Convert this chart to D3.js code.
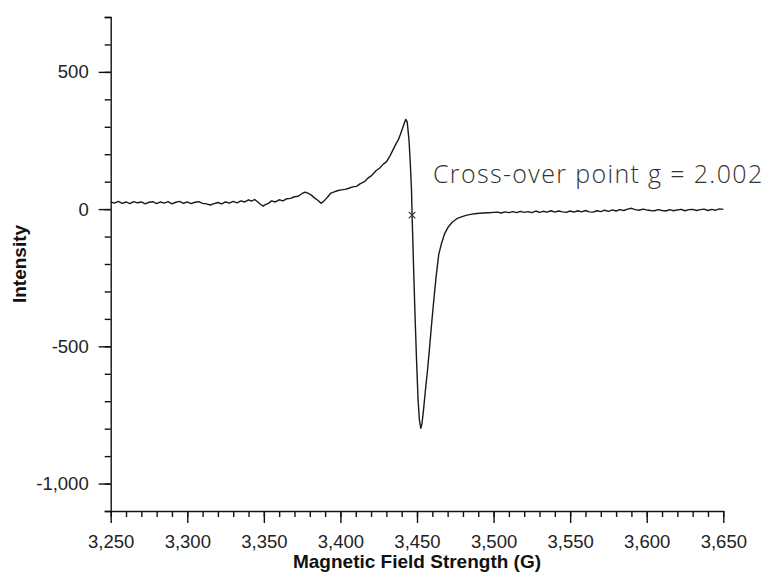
<!DOCTYPE html>
<meta charset="utf-8">
<style>
  body { margin: 0; background: #fff; }
  .axis text { font-family: "Liberation Sans", Arial, sans-serif; font-size: 18.5px; fill: #222; }
  .axis path, .axis line { stroke: #111; stroke-width: 1.4px; }
  .title { font-family: "Liberation Sans", Arial, sans-serif; font-weight: bold; font-size: 19px; fill: #111; }
  .note { font-family: "Open Sans", Roboto, sans-serif; font-weight: 300; font-size: 25px; letter-spacing: 1.35px; fill: #333; }
</style>
<body>
<script src="https://cdn.jsdelivr.net/npm/d3@7"></script>
<script>

// magnetic field (G) and intensity
var fieldG = [
  3250, 3252.5, 3255, 3257.5, 3260, 3262.5, 3265, 3267.5, 3270, 3272.5,
  3275, 3277.5, 3280, 3282.5, 3285, 3287.5, 3290, 3292.5, 3295, 3297.5,
  3300, 3302.5, 3305, 3307.5, 3310, 3312.5, 3315, 3317.5, 3320, 3322.5,
  3325, 3327.5, 3330, 3332.5, 3335, 3337.5, 3340, 3342, 3344, 3346,
  3348, 3349.5, 3351, 3353, 3355, 3357.5, 3360, 3362.5, 3365, 3367.5,
  3370, 3372.5, 3375, 3377, 3379, 3381, 3383, 3385, 3387.5, 3389.5,
  3391.5, 3393.5, 3395.5, 3398, 3400.5, 3403, 3405.5, 3408, 3410.5, 3413,
  3415.5, 3418, 3420.5, 3423, 3425.5, 3428, 3430, 3432, 3434, 3436,
  3437.7, 3439, 3440.5, 3441.8, 3442.7, 3443.6, 3444.8, 3445.6, 3446.4, 3446.8,
  3447.6, 3448.6, 3449.7, 3450.7, 3451.6, 3452.5, 3453.3, 3454.2, 3455.5, 3457,
  3458.2, 3459.6, 3461, 3462.5, 3464.2, 3466, 3468, 3470.5, 3473, 3476,
  3479, 3482, 3485, 3489, 3493, 3497, 3500, 3502.5, 3505, 3507.5,
  3510, 3512.5, 3515, 3517.5, 3520, 3522.5, 3525, 3527.5, 3530, 3532.5,
  3535, 3537.5, 3540, 3542.5, 3545, 3547.5, 3550, 3552.5, 3555, 3557.5,
  3560, 3562.5, 3565, 3567.5, 3570, 3572.5, 3575, 3577.5, 3580, 3582.5,
  3585, 3587.5, 3590, 3592.5, 3595, 3597.5, 3600, 3602.5, 3605, 3607.5,
  3610, 3612.5, 3615, 3617.5, 3620, 3622.5, 3625, 3627.5, 3630, 3632.5,
  3635, 3637.5, 3640, 3642.5, 3645, 3647.5, 3650
];
var intensity = [
  26, 22, 28, 21, 26, 20, 27, 23, 26, 19,
  25, 27, 20, 26, 22, 27, 19, 25, 28, 21,
  26, 20, 25, 27, 21, 19, 15, 20, 24, 19,
  26, 22, 28, 23, 30, 26, 34, 29, 35, 26,
  17, 11, 16, 21, 30, 26, 34, 30, 38, 39,
  45, 47, 57, 62, 57, 51, 41, 33, 21, 31,
  43, 57, 62, 67, 70, 72, 76, 81, 83, 93,
  99, 113, 123, 139, 149, 164, 172, 190, 212, 235,
  251, 270, 294, 315, 327, 318, 250, 170, 70, -22,
  -180, -368, -550, -696, -770, -799, -780, -735, -660, -580,
  -505, -415, -330, -245, -165, -125, -90, -64, -48, -35,
  -28, -23, -19, -16, -14, -13, -12, -11, -14, -10,
  -13, -9, -13, -8, -12, -9, -13, -7, -12, -8,
  -11, -6, -11, -7, -10, -12, -7, -11, -6, -10,
  -5, -10, -11, -6, -9, -4, -8, -3, -7, -2,
  -5, 0, 3, -2, -4, 0, -3, -5, -6, -2,
  -5, -7, -2, -6, -3, -1, -6, -2, -1, -5,
  -2, 0, -5, -1, -4, 1, -1
];

// crossover point marked with an x
var crossover = {g: 3446.8, i: -22};
var noteText = "Cross-over point g = 2.002";

var xMajor = [3250, 3300, 3350, 3400, 3450, 3500, 3550, 3600, 3650];
var yMajor = [-1000, -500, 0, 500];

var margin = {top: 17, right: 50, bottom: 65, left: 110.7},
    width = 773 - margin.left - margin.right,
    height = 576 - margin.top - margin.bottom;

var x = d3.scaleLinear().domain([3250, 3650]).range([0, 612.6]);
var y = d3.scaleLinear().domain([-1100, 700]).range([height, 0]);

var fmt = d3.formatLocale({decimal: ".", thousands: ",", grouping: [3], currency: ["", ""], minus: "-"}).format(",");

var svg = d3.select("body").append("svg")
    .attr("width", 773)
    .attr("height", 576)
  .append("g")
    .attr("transform", "translate(" + margin.left + "," + margin.top + ")");

// minor ticks
svg.append("g")
    .attr("class", "axis")
    .attr("transform", "translate(0," + height + ")")
    .call(d3.axisBottom(x).tickValues(d3.range(3250, 3651, 10)).tickSize(6).tickSizeOuter(0).tickFormat(""))
    .select(".domain").remove();
svg.append("g")
    .attr("class", "axis")
    .call(d3.axisLeft(y).tickValues(d3.range(-1100, 701, 100)).tickSize(6).tickSizeOuter(0).tickFormat(""))
    .select(".domain").remove();

// major axes
svg.append("g")
    .attr("class", "axis")
    .attr("transform", "translate(0," + height + ")")
    .call(d3.axisBottom(x).tickValues(xMajor).tickSize(12).tickSizeOuter(0).tickPadding(12).tickFormat(fmt));
svg.append("g")
    .attr("class", "axis")
    .call(d3.axisLeft(y).tickValues(yMajor).tickSize(12).tickSizeOuter(6).tickPadding(10).tickFormat(fmt));

svg.selectAll(".axis text").attr("fill", null);

// spectrum
var line = d3.line()
    .x(function(d, i) { return x(fieldG[i]); })
    .y(function(d) { return y(d); });

svg.append("path")
    .datum(intensity)
    .attr("fill", "none")
    .attr("stroke", "#1a1a1a")
    .attr("stroke-width", 1.4)
    .attr("stroke-linejoin", "round")
    .attr("d", line);

// crossover marker
svg.append("path")
    .attr("d", d3.symbol().type(d3.symbolX).size(30))
    .attr("transform", "translate(" + x(crossover.g) + "," + y(crossover.i) + ")")
    .attr("fill", "none")
    .attr("stroke", "#333")
    .attr("stroke-width", 1.2);

svg.append("text")
    .attr("class", "note")
    .attr("x", 433 - margin.left)
    .attr("y", 183 - margin.top)
    .text(noteText);

// axis titles
svg.append("text")
    .attr("class", "title")
    .attr("text-anchor", "middle")
    .attr("x", x(3450))
    .attr("y", 568 - margin.top)
    .text("Magnetic Field Strength (G)");

svg.append("text")
    .attr("class", "title")
    .attr("text-anchor", "middle")
    .attr("transform", "translate(" + (26 - margin.left) + "," + (height / 2) + ") rotate(-90)")
    .text("Intensity");
</script>
</body>
